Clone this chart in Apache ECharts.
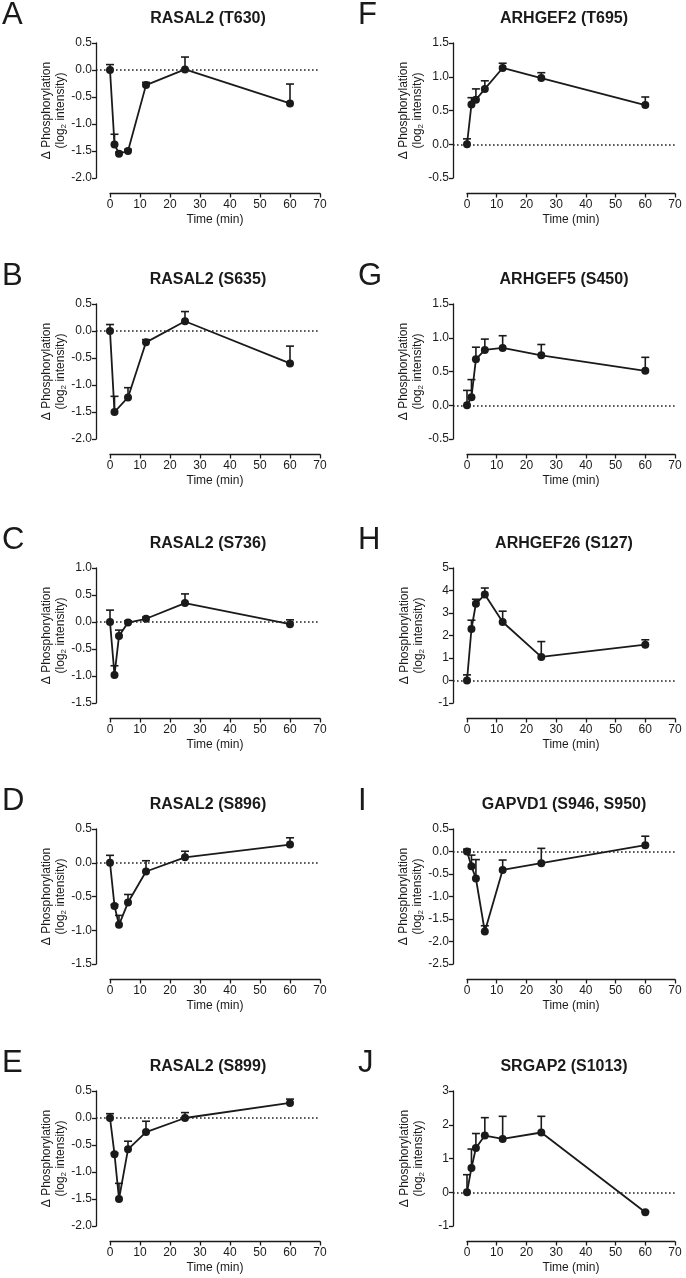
<!DOCTYPE html>
<html>
<head>
<meta charset="utf-8">
<script src="https://cdn.jsdelivr.net/npm/echarts@6/dist/echarts.min.js"></script>
<style>
html,body{margin:0;padding:0;background:#ffffff;}
#chart{width:686px;height:1278px;}
</style>
</head>
<body>
<div id="chart"></div>
<script>
// ---------------- DATA ----------------
const times = [0, 1.5, 3, 6, 12, 25, 60];
const xTicks = [0, 10, 20, 30, 40, 50, 60, 70];

const panelLetters = ['A', 'B', 'C', 'D', 'E', 'F', 'G', 'H', 'I', 'J'];
const panelTitles = [
  'RASAL2 (T630)', 'RASAL2 (S635)', 'RASAL2 (S736)', 'RASAL2 (S896)', 'RASAL2 (S899)',
  'ARHGEF2 (T695)', 'ARHGEF5 (S450)', 'ARHGEF26 (S127)', 'GAPVD1 (S946, S950)', 'SRGAP2 (S1013)'
];

// mean log2 change and upper error (SEM) per time point
const meanA = [0, -1.38, -1.55, -1.50, -0.28, 0.01, -0.62];
const semA  = [0.10, 0.19, 0.03, 0.03, 0.05, 0.23, 0.36];
const meanB = [0, -1.50, null, -1.23, -0.21, 0.18, -0.60];
const semB  = [0.12, 0.29, null, 0.18, 0.05, 0.18, 0.32];
const meanC = [0, -0.98, -0.26, -0.01, 0.06, 0.35, -0.04];
const semC  = [0.22, 0.17, 0.11, 0.03, 0.03, 0.17, 0.08];
const meanD = [0, -0.64, -0.92, -0.59, -0.13, 0.08, 0.27];
const semD  = [0.11, 0.02, 0.14, 0.12, 0.16, 0.09, 0.10];
const meanE = [0, -0.67, -1.50, -0.58, -0.26, 0.00, 0.28];
const semE  = [0.08, 0.02, 0.29, 0.15, 0.20, 0.10, 0.07];
const meanF = [0, 0.59, 0.66, 0.82, 1.13, 0.98, 0.58];
const semF  = [0.08, 0.10, 0.16, 0.12, 0.07, 0.08, 0.12];
const meanG = [0, 0.12, 0.68, 0.82, 0.85, 0.74, 0.51];
const semG  = [0.22, 0.26, 0.18, 0.16, 0.18, 0.16, 0.20];
const meanH = [0, 2.29, 3.41, 3.82, 2.60, 1.05, 1.59];
const semH  = [0.25, 0.39, 0.20, 0.29, 0.48, 0.68, 0.22];
const meanI = [0, -0.33, -0.60, -1.78, -0.41, -0.26, 0.14];
const semI  = [0.05, 0.25, 0.42, 0.13, 0.22, 0.33, 0.20];
const meanJ = [0, 0.72, 1.31, 1.68, 1.58, 1.77, -0.59];
const semJ  = [0.52, 0.56, 0.43, 0.53, 0.67, 0.48, 0.02];

// y-axis tick ranges
const yMins  = [-2.0, -2.0, -1.5, -1.5, -2.0, -0.5, -0.5, -1, -2.5, -1];
const yMaxs  = [0.5, 0.5, 1.0, 0.5, 0.5, 1.5, 1.5, 5, 0.5, 3];
const ySteps = [0.5, 0.5, 0.5, 0.5, 0.5, 0.5, 0.5, 1, 0.5, 1];

const means = [meanA, meanB, meanC, meanD, meanE, meanF, meanG, meanH, meanI, meanJ];
const sems  = [semA, semB, semC, semD, semE, semF, semG, semH, semI, semJ];

// ---------------- LAYOUT / STYLE ----------------
const FONT = '"Liberation Sans", Arial, Helvetica, sans-serif';
const INK = '#1a1a1a';
const colAxisX = [96, 453];
const colX0 = [110, 467];
const colX70 = [320, 675];
const rowTop = [43, 304, 568, 829, 1091];
const plotH = 135;
const xAxisGap = 15.5;
const letterX = [2, 358];

const grids = [], xAxes = [], yAxes = [], series = [], titles = [];

for (let p = 0; p < 10; p++) {
  const col = p < 5 ? 0 : 1;
  const row = p % 5;
  const axisX = colAxisX[col], x0 = colX0[col], x70 = colX70[col];
  const top = rowTop[row];
  const xMaxVal = xTicks[xTicks.length - 1];
  const xMinVal = -(x0 - axisX) * xMaxVal / (x70 - x0);

  // data grid (starts at y-axis line)
  const gData = grids.length;
  grids.push({left: axisX, top: top, width: x70 - axisX, height: plotH});
  // separate grid holding only the detached x axis
  const gAxis = grids.length;
  grids.push({left: x0, top: top + plotH + xAxisGap - 10, width: x70 - x0, height: 10});

  const xiData = xAxes.length;
  xAxes.push({gridIndex: gData, type: 'value', min: xMinVal, max: xMaxVal, show: false});
  const xiAxis = xAxes.length;
  xAxes.push({
    gridIndex: gAxis, type: 'value', min: xTicks[0], max: xMaxVal, interval: xTicks[1] - xTicks[0],
    position: 'bottom',
    axisLine: {show: true, onZero: false, lineStyle: {color: INK, width: 1.3}},
    axisTick: {show: true, length: 4, lineStyle: {color: INK, width: 1.3}},
    axisLabel: {show: true, fontFamily: FONT, fontSize: 12, color: INK, margin: 5},
    splitLine: {show: false},
    name: 'Time (min)', nameLocation: 'middle', nameGap: 20,
    nameTextStyle: {fontFamily: FONT, fontSize: 12, color: INK}
  });

  const step = ySteps[p];
  const yiData = yAxes.length;
  yAxes.push({
    gridIndex: gData, type: 'value', min: yMins[p], max: yMaxs[p], interval: step,
    position: 'left',
    axisLine: {show: true, onZero: false, lineStyle: {color: INK, width: 1.3}},
    axisTick: {show: true, length: 4, lineStyle: {color: INK, width: 1.3}},
    axisLabel: {
      show: true, fontFamily: FONT, fontSize: 12, color: INK, margin: 4,
      formatter: (v) => step < 1 ? v.toFixed(1) : String(Math.round(v))
    },
    splitLine: {show: false},
    name: '{t|\u0394 Phosphorylation}\n{t|(log}{s|2}{t| intensity)}',
    nameLocation: 'middle', nameGap: 27, nameRotate: 90,
    nameTextStyle: {
      color: INK,
      rich: {
        t: {fontFamily: FONT, fontSize: 12, lineHeight: 14, color: INK},
        s: {fontFamily: FONT, fontSize: 8, lineHeight: 8, verticalAlign: 'bottom', color: INK}
      }
    }
  });
  const yiAxis = yAxes.length;
  yAxes.push({gridIndex: gAxis, type: 'value', min: 0, max: 1, show: false});

  const m = means[p], s = sems[p];
  const lineData = [], errData = [];
  times.forEach((t, i) => {
    if (m[i] !== null) {
      lineData.push([t, m[i]]);
      errData.push([t, m[i], m[i] + s[i]]);
    }
  });

  series.push({
    type: 'custom', xAxisIndex: xiData, yAxisIndex: yiData, silent: true, z: 2,
    encode: {x: 0, y: [1, 2]},
    data: errData,
    renderItem: function (params, api) {
      const a = api.coord([api.value(0), api.value(1)]);
      const b = api.coord([api.value(0), api.value(2)]);
      return {
        type: 'group',
        children: [
          {type: 'line', shape: {x1: a[0], y1: a[1], x2: b[0], y2: b[1]},
           style: {stroke: INK, lineWidth: 1.6}},
          {type: 'line', shape: {x1: b[0] - 4, y1: b[1], x2: b[0] + 4, y2: b[1]},
           style: {stroke: INK, lineWidth: 1.6}}
        ]
      };
    }
  });

  series.push({
    type: 'line', xAxisIndex: xiData, yAxisIndex: yiData, z: 3,
    data: lineData, connectNulls: true,
    symbol: 'circle', symbolSize: 8, showSymbol: true,
    itemStyle: {color: INK, borderWidth: 0},
    lineStyle: {color: INK, width: 1.8},
    emphasis: {disabled: true},
    markLine: {
      silent: true, symbol: ['none', 'none'], label: {show: false},
      lineStyle: {type: [1.6, 2.4], color: '#222', width: 1.6},
      emphasis: {disabled: true},
      data: [{yAxis: 0}]
    }
  });

  titles.push({
    text: panelTitles[p],
    left: (axisX + x70) / 2, top: top - 24.5,
    textAlign: 'center', textVerticalAlign: 'middle', padding: 0,
    textStyle: {fontFamily: FONT, fontSize: 16, fontWeight: 'bold', color: INK}
  });
  titles.push({
    text: panelLetters[p],
    left: letterX[col], top: top - 27.5,
    textAlign: 'left', textVerticalAlign: 'middle', padding: 0,
    textStyle: {fontFamily: FONT, fontSize: 31, fontWeight: 'normal', color: INK}
  });
}

const chart = echarts.init(document.getElementById('chart'), null, {renderer: 'canvas'});
chart.setOption({
  animation: false,
  backgroundColor: '#ffffff',
  title: titles,
  grid: grids,
  xAxis: xAxes,
  yAxis: yAxes,
  series: series
});
</script>
</body>
</html>
